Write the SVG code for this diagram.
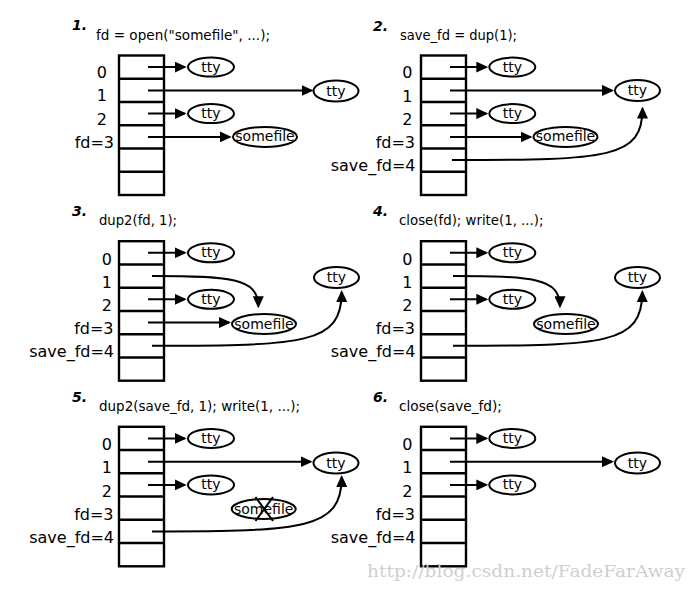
<svg xmlns="http://www.w3.org/2000/svg" width="698" height="591" viewBox="0 0 698 591">
<style>
.bg{fill:#fff}
.tbl{fill:none;stroke:#000;stroke-width:2.4}
.node ellipse{fill:#fff;stroke:#000;stroke-width:2}
.nt{font-family:"DejaVu Sans",sans-serif;font-size:14px;text-anchor:middle;fill:#000}
.lbl{font-family:"DejaVu Sans",sans-serif;font-size:16px;text-anchor:end;fill:#000}
.ttl{font-family:"DejaVu Sans Condensed","DejaVu Sans",sans-serif;font-size:14px;fill:#000}
.num{font-family:"DejaVu Sans",sans-serif;font-size:14px;font-weight:bold;font-style:italic;fill:#000}
.edge{fill:none;stroke:#000;stroke-width:2;marker-end:url(#ah)}
.xmark{stroke:#000;stroke-width:2;fill:none}
.wm{font-family:"DejaVu Serif","Liberation Serif",serif;font-size:17px;fill:#cfcfcf}
</style>
<defs>
<marker id="ah" viewBox="0 0 12 11" refX="10" refY="5.5" markerWidth="12" markerHeight="11" markerUnits="userSpaceOnUse" orient="auto"><path d="M0,0 L12,5.5 L0,11 z" fill="#000"/></marker>
</defs>
<rect class="bg" x="0" y="0" width="698" height="591"/>

<!-- Panel 1 -->
<g id="panel1">
<text class="num" x="72" y="30">1.</text>
<text class="ttl" x="96" y="40" textLength="174" lengthAdjust="spacingAndGlyphs">fd = open("somefile", ...);</text>
<g id="p1-table">
<rect class="tbl" x="119" y="55.5" width="45" height="139.5"/>
<path class="tbl" d="M119,78.75H164M119,102H164M119,125.25H164M119,148.5H164M119,171.75H164"/>
<text class="lbl" x="107" y="78">0</text>
<text class="lbl" x="107" y="101.3">1</text>
<text class="lbl" x="107" y="124.5">2</text>
<text class="lbl" x="114" y="147.8">fd=3</text>
</g>
<g id="p1-tty0" class="node"><ellipse cx="211" cy="67.1" rx="23" ry="9.5"/><text class="nt" x="211" y="71.6">tty</text></g>
<g id="p1-tty1" class="node"><ellipse cx="336" cy="91" rx="22.5" ry="10.5"/><text class="nt" x="336" y="95.5">tty</text></g>
<g id="p1-tty2" class="node"><ellipse cx="211" cy="113.6" rx="23" ry="9.5"/><text class="nt" x="211" y="118.1">tty</text></g>
<g id="p1-somefile" class="node"><ellipse cx="265" cy="136.9" rx="32" ry="10"/><text class="nt" x="265" y="141.4">somefile</text></g>
<g id="p1-edges">
<path class="edge" d="M148,67.1H184.7"/>
<path class="edge" d="M148,90.4H311.5"/>
<path class="edge" d="M148,113.6H184.7"/>
<path class="edge" d="M148,136.9H229.7"/>
</g>
</g>

<!-- Panel 2 -->
<g id="panel2">
<text class="num" x="373" y="31">2.</text>
<text class="ttl" x="400" y="40" textLength="117" lengthAdjust="spacingAndGlyphs">save_fd = dup(1);</text>
<g id="p2-table">
<rect class="tbl" x="421" y="55.5" width="45" height="139.5"/>
<path class="tbl" d="M421,78.75H466M421,102H466M421,125.25H466M421,148.5H466M421,171.75H466"/>
<text class="lbl" x="412.5" y="78.3">0</text>
<text class="lbl" x="412.5" y="101.5">1</text>
<text class="lbl" x="412.5" y="124.8">2</text>
<text class="lbl" x="415" y="148">fd=3</text>
<text class="lbl" x="415.5" y="171.3">save_fd=4</text>
</g>
<g id="p2-tty0" class="node"><ellipse cx="512.3" cy="67.1" rx="23" ry="9.5"/><text class="nt" x="512.3" y="71.6">tty</text></g>
<g id="p2-tty1" class="node"><ellipse cx="637.5" cy="90.5" rx="22.5" ry="10.5"/><text class="nt" x="637.5" y="95">tty</text></g>
<g id="p2-tty2" class="node"><ellipse cx="512.3" cy="113.6" rx="23" ry="9.5"/><text class="nt" x="512.3" y="118.1">tty</text></g>
<g id="p2-somefile" class="node"><ellipse cx="565.5" cy="136.9" rx="32" ry="10"/><text class="nt" x="565.5" y="141.4">somefile</text></g>
<g id="p2-edges">
<path class="edge" d="M450,67.1H486.3"/>
<path class="edge" d="M450,90.4H612"/>
<path class="edge" d="M450,113.6H486.3"/>
<path class="edge" d="M450,136.9H530.5"/>
<path class="edge" d="M452,160.1C610,160.1 642.5,158 642.5,108.5"/>
</g>
</g>

<!-- Panel 3 -->
<g id="panel3">
<text class="num" x="72" y="215.5">3.</text>
<text class="ttl" x="99" y="225" textLength="78" lengthAdjust="spacingAndGlyphs">dup2(fd, 1);</text>
<g id="p3-table">
<rect class="tbl" x="119" y="241.2" width="45" height="139.5"/>
<path class="tbl" d="M119,264.45H164M119,287.7H164M119,310.95H164M119,334.2H164M119,357.45H164"/>
<text class="lbl" x="112" y="264.5">0</text>
<text class="lbl" x="112" y="287.7">1</text>
<text class="lbl" x="112" y="311">2</text>
<text class="lbl" x="113.5" y="334.2">fd=3</text>
<text class="lbl" x="114" y="357.4">save_fd=4</text>
</g>
<g id="p3-tty0" class="node"><ellipse cx="211" cy="252.8" rx="23" ry="9.5"/><text class="nt" x="211" y="257.3">tty</text></g>
<g id="p3-tty1" class="node"><ellipse cx="336.5" cy="277.5" rx="22.5" ry="10.5"/><text class="nt" x="336.5" y="282">tty</text></g>
<g id="p3-tty2" class="node"><ellipse cx="211" cy="299.3" rx="23" ry="9.5"/><text class="nt" x="211" y="303.8">tty</text></g>
<g id="p3-somefile" class="node"><ellipse cx="264" cy="324" rx="32" ry="10"/><text class="nt" x="264" y="328.5">somefile</text></g>
<g id="p3-edges">
<path class="edge" d="M148,252.8H184.7"/>
<path class="edge" d="M152,276.1C230,276.1 258.3,278 258.3,306.3"/>
<path class="edge" d="M148,299.3H184.7"/>
<path class="edge" d="M148,322.6H229"/>
<path class="edge" d="M152,345.8C305,345.8 341.7,344 341.7,292"/>
</g>
</g>

<!-- Panel 4 -->
<g id="panel4">
<text class="num" x="373" y="215.5">4.</text>
<text class="ttl" x="399" y="225" textLength="144.5" lengthAdjust="spacingAndGlyphs">close(fd); write(1, ...);</text>
<g id="p4-table">
<rect class="tbl" x="421" y="241.2" width="45" height="139.5"/>
<path class="tbl" d="M421,264.45H466M421,287.7H466M421,310.95H466M421,334.2H466M421,357.45H466"/>
<text class="lbl" x="412.5" y="264.5">0</text>
<text class="lbl" x="412.5" y="287.7">1</text>
<text class="lbl" x="412.5" y="311">2</text>
<text class="lbl" x="415" y="334.2">fd=3</text>
<text class="lbl" x="415.5" y="357.4">save_fd=4</text>
</g>
<g id="p4-tty0" class="node"><ellipse cx="512.3" cy="252.8" rx="23" ry="9.5"/><text class="nt" x="512.3" y="257.3">tty</text></g>
<g id="p4-tty1" class="node"><ellipse cx="637.5" cy="277.5" rx="22.5" ry="10.5"/><text class="nt" x="637.5" y="282">tty</text></g>
<g id="p4-tty2" class="node"><ellipse cx="512.3" cy="299.3" rx="23" ry="9.5"/><text class="nt" x="512.3" y="303.8">tty</text></g>
<g id="p4-somefile" class="node"><ellipse cx="566" cy="324" rx="32" ry="10"/><text class="nt" x="566" y="328.5">somefile</text></g>
<g id="p4-edges">
<path class="edge" d="M450,252.8H486.3"/>
<path class="edge" d="M453,276.1C532,276.1 560,278 560,306.3"/>
<path class="edge" d="M450,299.3H486.3"/>
<path class="edge" d="M453,345.8C606,345.8 642.3,344 642.3,292"/>
</g>
</g>

<!-- Panel 5 -->
<g id="panel5">
<text class="num" x="72" y="401.5">5.</text>
<text class="ttl" x="99" y="411" textLength="201" lengthAdjust="spacingAndGlyphs">dup2(save_fd, 1); write(1, ...);</text>
<g id="p5-table">
<rect class="tbl" x="119" y="426.8" width="45" height="139.5"/>
<path class="tbl" d="M119,450.05H164M119,473.3H164M119,496.55H164M119,519.8H164M119,543.05H164"/>
<text class="lbl" x="112" y="450">0</text>
<text class="lbl" x="112" y="473.3">1</text>
<text class="lbl" x="112" y="496.5">2</text>
<text class="lbl" x="113.5" y="519.8">fd=3</text>
<text class="lbl" x="114" y="543">save_fd=4</text>
</g>
<g id="p5-tty0" class="node"><ellipse cx="211" cy="438.4" rx="23" ry="9.5"/><text class="nt" x="211" y="442.9">tty</text></g>
<g id="p5-tty1" class="node"><ellipse cx="336" cy="463" rx="22.5" ry="10.5"/><text class="nt" x="336" y="467.5">tty</text></g>
<g id="p5-tty2" class="node"><ellipse cx="211" cy="484.9" rx="23" ry="9.5"/><text class="nt" x="211" y="489.4">tty</text></g>
<g id="p5-somefile" class="node"><ellipse cx="263.7" cy="509" rx="32" ry="10"/><text class="nt" x="263.7" y="513.5">somefile</text><path class="xmark" d="M255.5,497L273,521M273,497L255.5,521"/></g>
<g id="p5-edges">
<path class="edge" d="M148,438.4H184.7"/>
<path class="edge" d="M148,461.7H310.5"/>
<path class="edge" d="M148,484.9H184.7"/>
<path class="edge" d="M152,531.4C305,531.4 341.7,529 341.7,477"/>
</g>
</g>

<!-- Panel 6 -->
<g id="panel6">
<text class="num" x="373" y="401.5">6.</text>
<text class="ttl" x="399" y="411" textLength="103" lengthAdjust="spacingAndGlyphs">close(save_fd);</text>
<g id="p6-table">
<rect class="tbl" x="421" y="426.8" width="45" height="139.5"/>
<path class="tbl" d="M421,450.05H466M421,473.3H466M421,496.55H466M421,519.8H466M421,543.05H466"/>
<text class="lbl" x="412.5" y="450">0</text>
<text class="lbl" x="412.5" y="473.3">1</text>
<text class="lbl" x="412.5" y="496.5">2</text>
<text class="lbl" x="415" y="519.8">fd=3</text>
<text class="lbl" x="415.5" y="543">save_fd=4</text>
</g>
<g id="p6-tty0" class="node"><ellipse cx="512.3" cy="438.4" rx="23" ry="9.5"/><text class="nt" x="512.3" y="442.9">tty</text></g>
<g id="p6-tty1" class="node"><ellipse cx="637.5" cy="463" rx="22.5" ry="10.5"/><text class="nt" x="637.5" y="467.5">tty</text></g>
<g id="p6-tty2" class="node"><ellipse cx="512.3" cy="484.9" rx="23" ry="9.5"/><text class="nt" x="512.3" y="489.4">tty</text></g>
<g id="p6-edges">
<path class="edge" d="M450,438.4H486.3"/>
<path class="edge" d="M450,461.7H612"/>
<path class="edge" d="M450,484.9H486.3"/>
</g>
</g>

<text class="wm" x="367" y="576.5" textLength="318" lengthAdjust="spacingAndGlyphs">http://blog.csdn.net/FadeFarAway</text>
</svg>
